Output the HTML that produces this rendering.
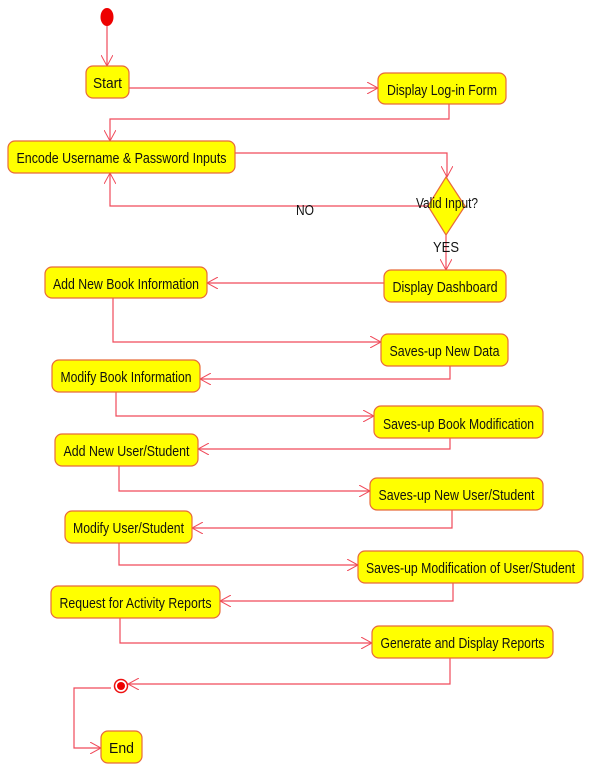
<!DOCTYPE html>
<html><head><meta charset="utf-8"><style>
html,body{margin:0;padding:0;background:#fff;}
svg{display:block;}
text{font-family:"Liberation Sans",Arial,sans-serif;font-size:15px;fill:#111;}
</style></head><body>
<svg width="602" height="771" viewBox="0 0 602 771" xmlns="http://www.w3.org/2000/svg">
<defs>
<marker id="a" markerWidth="12" markerHeight="12" refX="11" refY="6" orient="auto" markerUnits="userSpaceOnUse">
<path d="M0,0 L11,6 L0,12" fill="none" stroke="#f04a5a" stroke-width="1"/>
</marker>
</defs>
<g fill="none" stroke="#f04a5a" stroke-width="1.2">
<path d="M107,26 V66" marker-end="url(#a)"/>
<path d="M129,88 H378" marker-end="url(#a)"/>
<path d="M449,104 V119 H110 V141" marker-end="url(#a)"/>
<path d="M235,153 H447 V177" marker-end="url(#a)"/>
<path d="M428,206 H110 V173" marker-end="url(#a)"/>
<path d="M446,235 V270" marker-end="url(#a)"/>
<path d="M384,283 H207" marker-end="url(#a)"/>
<path d="M113,298 V342 H381" marker-end="url(#a)"/>
<path d="M450,366 V379 H200" marker-end="url(#a)"/>
<path d="M116,392 V416 H374" marker-end="url(#a)"/>
<path d="M450,438 V449 H198" marker-end="url(#a)"/>
<path d="M119,466 V491 H370" marker-end="url(#a)"/>
<path d="M452,510 V528 H192" marker-end="url(#a)"/>
<path d="M119,543 V565 H358" marker-end="url(#a)"/>
<path d="M453,583 V601 H220" marker-end="url(#a)"/>
<path d="M120,618 V643 H372" marker-end="url(#a)"/>
<path d="M450,658 V684 H128" marker-end="url(#a)"/>
<path d="M111,688 H74 V748 H101" marker-end="url(#a)"/>
</g>
<ellipse cx="107" cy="17" rx="6.5" ry="9" fill="#ee0000"/>
<circle cx="121" cy="686" r="6.5" fill="#fff" stroke="#ee1111" stroke-width="1.5"/>
<circle cx="121" cy="686" r="4" fill="#ee0000"/>
<g fill="#ffff00" stroke="#e86a3a" stroke-width="1.2">
<rect x="86" y="66" width="43" height="32" rx="7"/>
<rect x="378" y="73" width="128" height="31" rx="7"/>
<rect x="8" y="141" width="227" height="32" rx="7"/>
<path d="M446,177 L465,206 L446,235 L428,206 Z"/>
<rect x="384" y="270" width="122" height="32" rx="7"/>
<rect x="45" y="267" width="162" height="31" rx="7"/>
<rect x="381" y="334" width="127" height="32" rx="7"/>
<rect x="52" y="360" width="148" height="32" rx="7"/>
<rect x="374" y="406" width="169" height="32" rx="7"/>
<rect x="55" y="434" width="143" height="32" rx="7"/>
<rect x="370" y="478" width="173" height="32" rx="7"/>
<rect x="65" y="511" width="127" height="32" rx="7"/>
<rect x="358" y="551" width="225" height="32" rx="7"/>
<rect x="51" y="586" width="169" height="32" rx="7"/>
<rect x="372" y="626" width="181" height="32" rx="7"/>
<rect x="101" y="731" width="41" height="32" rx="7"/>
</g>
<g text-anchor="middle">
<text x="107.5" y="88" textLength="29" lengthAdjust="spacingAndGlyphs">Start</text>
<text x="442" y="95" textLength="110" lengthAdjust="spacingAndGlyphs">Display Log-in Form</text>
<text x="121.5" y="163" textLength="210" lengthAdjust="spacingAndGlyphs">Encode Username &amp; Password Inputs</text>
<text x="447" y="208" textLength="62" lengthAdjust="spacingAndGlyphs">Valid Input?</text>
<text x="305" y="215" textLength="18" lengthAdjust="spacingAndGlyphs">NO</text>
<text x="446" y="252" textLength="26" lengthAdjust="spacingAndGlyphs">YES</text>
<text x="445" y="292" textLength="105" lengthAdjust="spacingAndGlyphs">Display Dashboard</text>
<text x="126" y="289" textLength="146" lengthAdjust="spacingAndGlyphs">Add New Book Information</text>
<text x="444.5" y="356" textLength="110" lengthAdjust="spacingAndGlyphs">Saves-up New Data</text>
<text x="126" y="382" textLength="131" lengthAdjust="spacingAndGlyphs">Modify Book Information</text>
<text x="458.5" y="429" textLength="151" lengthAdjust="spacingAndGlyphs">Saves-up Book Modification</text>
<text x="126.5" y="456" textLength="126" lengthAdjust="spacingAndGlyphs">Add New User/Student</text>
<text x="456.5" y="500" textLength="156" lengthAdjust="spacingAndGlyphs">Saves-up New User/Student</text>
<text x="128.5" y="533" textLength="111" lengthAdjust="spacingAndGlyphs">Modify User/Student</text>
<text x="470.5" y="573" textLength="209" lengthAdjust="spacingAndGlyphs">Saves-up Modification of User/Student</text>
<text x="135.5" y="608" textLength="152" lengthAdjust="spacingAndGlyphs">Request for Activity Reports</text>
<text x="462.5" y="648" textLength="164" lengthAdjust="spacingAndGlyphs">Generate and Display Reports</text>
<text x="121.5" y="753" textLength="25" lengthAdjust="spacingAndGlyphs">End</text>
</g>
</svg>
</body></html>
